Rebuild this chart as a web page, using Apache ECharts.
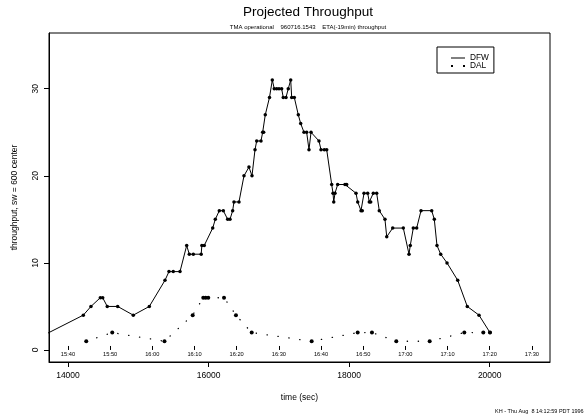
<!DOCTYPE html>
<html>
<head>
<meta charset="utf-8">
<script src="https://cdn.jsdelivr.net/npm/echarts@6/dist/echarts.min.js"></script>
<style>
  html, body { margin: 0; padding: 0; background: #fff; }
  #chart { width: 584px; height: 416px; }
</style>
</head>
<body>
<div id="chart"></div>
<script>
// DFW series: time (sec) and throughput
var dfwTime = [13485, 14218, 14327, 14460, 14494, 14559, 14707, 14929, 15157, 15380,
  15437, 15498, 15594, 15689, 15726, 15783, 15895, 15905, 15939, 16059,
  16096, 16153, 16210, 16272, 16305, 16343, 16362, 16433, 16504, 16575,
  16618, 16661, 16685, 16746, 16770, 16784, 16807, 16867, 16907, 16935,
  16969, 17002, 17040, 17063, 17102, 17134, 17169, 17183, 17220, 17277,
  17311, 17358, 17396, 17429, 17458, 17571, 17600, 17647, 17681, 17752,
  17771, 17781, 17799, 17837, 17941, 17965, 18098, 18122, 18169, 18187,
  18212, 18264, 18287, 18307, 18344, 18392, 18429, 18510, 18535, 18620,
  18771, 18852, 18870, 18913, 18961, 19023, 19175, 19212, 19250, 19303,
  19393, 19545, 19681, 19848, 20004];
var dfwVal = [1, 4, 5, 6, 6, 5, 5, 4, 5, 8,
  9, 9, 9, 12, 11, 11, 11, 12, 12, 14,
  15, 16, 16, 15, 15, 16, 17, 17, 20, 21,
  20, 23, 24, 24, 25, 25, 27, 29, 31, 30,
  30, 30, 30, 29, 29, 30, 31, 29, 29, 27,
  26, 25, 25, 23, 25, 24, 23, 23, 23, 19,
  18, 17, 18, 19, 19, 19, 18, 17, 16, 16,
  18, 18, 17, 17, 18, 18, 16, 15, 13, 14,
  14, 11, 12, 14, 14, 16, 16, 15, 12, 11,
  10, 8, 5, 4, 2];

// DAL series
var dalTime = [14260, 14630, 15373, 15774, 15925, 15959, 15996, 16220, 16390, 16614,
  17467, 18122, 18325, 18671, 19146, 19639, 19909, 20004];
var dalVal = [1, 2, 1, 4, 6, 6, 6, 6, 4, 2,
  1, 2, 2, 1, 1, 2, 2, 2];

// axis ticks
var xTicks = [14000, 16000, 18000, 20000];
var yTicks = [0, 10, 20, 30];
// clock time labels shown inside the plot
var todValues = [14000, 14600, 15200, 15800, 16400, 17000, 17600, 18200, 18800, 19400, 20000, 20600];
var todLabels = ['15:40', '15:50', '16:00', '16:10', '16:20', '16:30', '16:40', '16:50', '17:00', '17:10', '17:20', '17:30'];

var FONT = 'Liberation Sans';

function pairs(xs, ys) {
  return xs.map(function (x, i) { return [x, ys[i]]; });
}

var chart = echarts.init(document.getElementById('chart'));

var option = {
  animation: false,
  backgroundColor: '#fff',
  textStyle: { fontFamily: FONT, color: '#000' },
  title: {
    text: 'Projected Throughput',
    subtext: 'TMA operational    960716.1543    ETA(-19min) throughput',
    left: 308,
    top: 5,
    textAlign: 'center',
    padding: 0,
    itemGap: 5,
    textStyle: { fontFamily: FONT, fontSize: 13.5, fontWeight: 'normal', color: '#000' },
    subtextStyle: { fontFamily: FONT, fontSize: 6, color: '#000' }
  },
  legend: {
    left: 437,
    top: 47,
    orient: 'vertical',
    backgroundColor: '#fff',
    borderColor: '#000',
    borderWidth: 1,
    borderRadius: 0,
    padding: [7, 5, 3, 14],
    itemGap: 0,
    itemWidth: 14,
    itemHeight: 2,
    itemTextGap: 10,
    textStyle: { fontFamily: FONT, fontSize: 8.3, lineHeight: 8, color: '#000' },
    data: [
      { name: 'DFW', icon: 'path://M0,0h14v1h-14z' },
      { name: 'DAL', icon: 'path://M0,0h2v2h-2zM12,0h2v2h-2z' }
    ]
  },
  grid: {
    left: 49,
    right: 34,
    top: 33,
    bottom: 54,
    show: true,
    borderColor: '#000',
    borderWidth: 1,
    outerBoundsMode: 'none'
  },
  xAxis: [
    {
      type: 'value',
      min: 13730,
      max: 20858,
      name: 'time (sec)',
      nameLocation: 'middle',
      nameGap: 31,
      nameTextStyle: { fontFamily: FONT, fontSize: 8.5, color: '#000' },
      axisLine: { show: true, onZero: false, lineStyle: { color: '#000', width: 1 } },
      axisTick: { show: true, length: 5, lineStyle: { color: '#000' }, customValues: xTicks },
      axisLabel: {
        fontFamily: FONT, fontSize: 8.5, color: '#000', margin: 9, customValues: xTicks,
        formatter: function (v) { return String(v); }
      },
      splitLine: { show: false }
    },
    {
      type: 'value',
      position: 'bottom',
      min: 13730,
      max: 20858,
      axisLine: { show: false },
      axisTick: { show: true, inside: true, length: 4, lineStyle: { color: '#000' }, customValues: todValues },
      axisLabel: {
        inside: true,
        margin: 5,
        fontFamily: FONT,
        fontSize: 5.7,
        color: '#000',
        customValues: todValues,
        formatter: function (v) { return todLabels[todValues.indexOf(v)]; }
      },
      splitLine: { show: false }
    }
  ],
  yAxis: {
    type: 'value',
    min: -1.38,
    max: 36.4,
    name: 'throughput, sw = 600 center',
    nameLocation: 'middle',
    nameGap: 30,
    nameRotate: 90,
    nameTextStyle: { fontFamily: FONT, fontSize: 8.5, color: '#000' },
    axisLine: { show: true, onZero: false, lineStyle: { color: '#000', width: 1 } },
    axisTick: { show: true, length: 5, lineStyle: { color: '#000' }, customValues: yTicks },
    axisLabel: { rotate: 90, fontFamily: FONT, fontSize: 8.5, color: '#000', margin: 9, customValues: yTicks },
    splitLine: { show: false }
  },
  graphic: [
    {
      type: 'text',
      left: 495,
      top: 408,
      style: { text: 'KH - Thu Aug  8 14:12:59 PDT 1996', fontFamily: FONT, fontSize: 5.5, fill: '#000' }
    }
  ],
  series: [
    {
      name: 'DFW',
      type: 'line',
      xAxisIndex: 0,
      data: pairs(dfwTime, dfwVal),
      clip: true,
      showAllSymbol: true,
      symbol: 'circle',
      symbolSize: 3.5,
      itemStyle: { color: '#000' },
      lineStyle: { color: '#000', width: 1 }
    },
    {
      name: 'DAL',
      type: 'line',
      xAxisIndex: 0,
      data: pairs(dalTime, dalVal),
      clip: true,
      showAllSymbol: true,
      symbol: 'circle',
      symbolSize: 4,
      itemStyle: { color: '#000' },
      lineStyle: { color: '#000', width: 1.3, type: [0.3, 10.7], cap: 'round' }
    }
  ]
};

chart.setOption(option);
</script>
</body>
</html>
